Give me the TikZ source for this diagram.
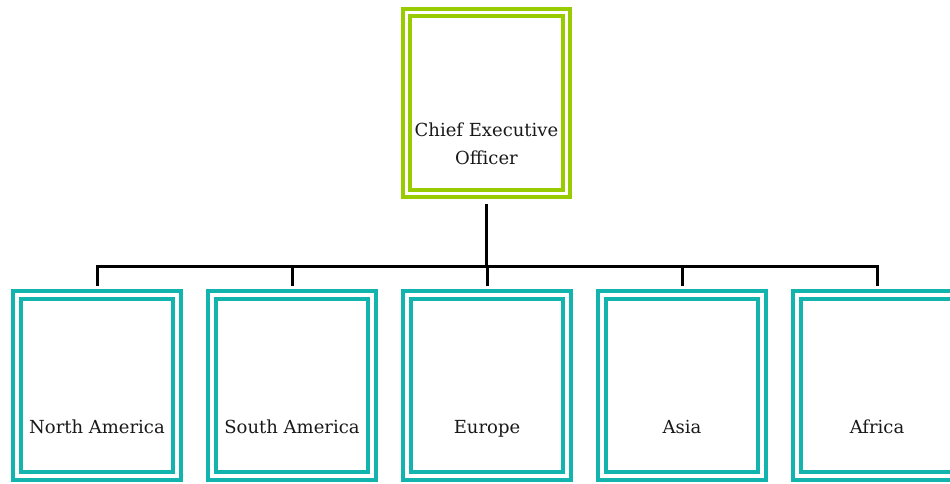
\documentclass[tikz,border=0pt]{standalone}
\usepackage{fontspec}
\setmainfont{DejaVu Serif}
\usepackage{tikz}
\usetikzlibrary{positioning, calc}
\definecolor{ceogreen}{RGB}{153,204,0}
\definecolor{regionteal}{RGB}{20,180,174}

\begin{document}
\begin{tikzpicture}[
  x=1pt, y=-1pt,
  unit/.style={rectangle, draw, line width=4pt, double=white, double distance=3.5pt,
    minimum width=160pt, minimum height=181pt, inner sep=0pt, outer sep=0pt},
  head/.style={unit, draw=ceogreen},
  region/.style={unit, draw=regionteal},
  tag/.style={font=\fontsize{18}{28}\selectfont, text=black!90, align=center,
    text depth=0pt, yshift=-41pt},
  conn/.style={line width=3pt, black},
  node distance=35pt
]
\useasboundingbox (0,0) rectangle (950,483);

\node[head, label={[tag]center:Chief Executive\\Officer}] (ceo) at (486.5,103) {};
\node[region, label={[tag]center:North America}] (na) at (97,385.5) {};
\node[region, right=of na, label={[tag]center:South America}] (sa) {};
\node[region, right=of sa, label={[tag]center:Europe}] (eu) {};
\node[region, right=of eu, label={[tag]center:Asia}] (as) {};
\node[region, right=of as, label={[tag]center:Africa}] (af) {};

\coordinate (hub) at ($(ceo.south)+(0,72.5)$);
\draw[conn, shorten <=10.5pt] (ceo.south) -- (hub);
\foreach \r in {na,sa,eu,as,af}
  \draw[conn, shorten >=9.5pt] (hub) -| (\r.north);
\end{tikzpicture}
\end{document}
